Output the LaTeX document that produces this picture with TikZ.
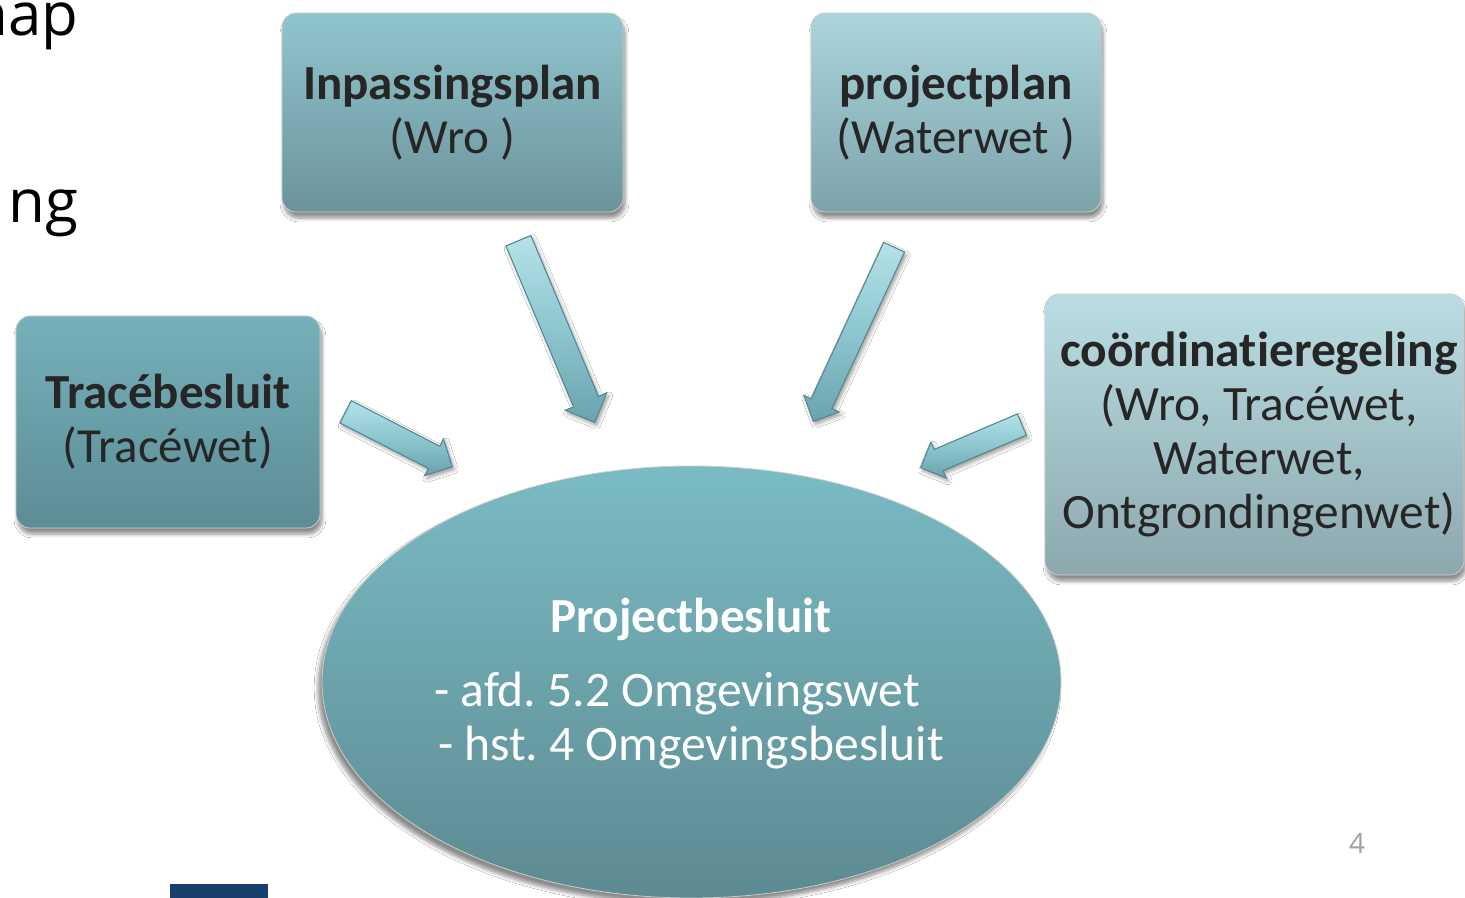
\documentclass[tikz,border=0pt]{standalone}
\usepackage{fontspec}
\setmainfont{Carlito}[Ligatures=NoCommon]
\newfontfamily\slidefont{Open Sans}
\usetikzlibrary{shapes.arrows,shapes.geometric,shadows.blur}
\definecolor{arredge}{HTML}{4F8790}
\definecolor{arrlight}{HTML}{B4E2E8}
\definecolor{arrmid}{HTML}{8DC6CE}
\definecolor{arrdark}{HTML}{6AA3AC}
\definecolor{barblue}{HTML}{17406D}
\definecolor{pagegray}{HTML}{A0A0A0}
\frenchspacing
\begin{document}
\begin{tikzpicture}[x=0.5pt,y=-0.5pt,
  boxbase/.style={rounded corners=7pt, draw=black!20, line width=0.4pt,
    font=\fontsize{24.5}{27}\selectfont, align=center, text=black!85, inner sep=0pt,
    blur shadow={shadow xshift=1pt, shadow yshift=-3pt, shadow blur steps=6, shadow opacity=45}},
  boxtext/.style={font=\fontsize{24.7}{27}\selectfont, align=center, text=black!85, inner sep=0pt},
  blockarrow/.style={single arrow, inner xsep=0pt, inner ysep=6pt, anchor=tip,
    single arrow head extend=4pt, draw=arredge, line width=0.5pt,
    top color=arrlight, bottom color=arrdark, middle color=arrmid,
    blur shadow={shadow xshift=1pt, shadow yshift=-1.5pt, shadow blur steps=4, shadow opacity=40}},
  slidetext/.style={font=\slidefont\fontsize{30}{34}\selectfont, text=black, inner sep=0pt},
  elltext/.style={font=\fontsize{24.8}{27}\selectfont, text=white, anchor=base, inner sep=0pt}]
\useasboundingbox (0,0) rectangle (1465,898);
\clip (0,0) rectangle (1465,898);
\fill[white] (0,0) rectangle (1465,898);

% partial slide text
\node[slidetext, anchor=base east] (tnap) at (79,36) {nap};
\node[slidetext, anchor=base east] (tng) at (79,223) {ng};

% boxes
\node[boxbase, minimum width=170.5pt, minimum height=99.5pt,
  top color={rgb,255:red,144;green,197;blue,205}, bottom color={rgb,255:red,108;green,147;blue,155}]
  (inp) at (452.5,112.5) {\textbf{Inpassingsplan}\\(Wro )};
\node[boxbase, minimum width=145pt, minimum height=99.5pt,
  top color={rgb,255:red,170;green,213;blue,219}, bottom color={rgb,255:red,125;green,163;blue,170}]
  (proj) at (956,112.5) {\textbf{projectplan}\\(Waterwet )};
\node[boxbase, minimum width=152pt, minimum height=106pt,
  top color={rgb,255:red,118;green,176;blue,187}, bottom color={rgb,255:red,92;green,141;blue,149}]
  (trace) at (168,422) {\textbf{Tracébesluit}\\(Tracéwet)};
\node[boxbase, minimum width=209.5pt, minimum height=140.5pt,
  top color={rgb,255:red,186;green,222;blue,227}, bottom color={rgb,255:red,140;green,168;blue,174}]
  (coord) at (1254.5,434.5) {};
\node[boxtext] (coordt) at (1259,434.5) {\textbf{coördinatieregeling}\\(Wro, Tracéwet,\\Waterwet,\\Ontgrondingenwet)};

% central ellipse
\node[ellipse, minimum width=369.5pt, minimum height=216pt, inner sep=0pt,
  draw=black!20, line width=0.4pt,
  top color={rgb,255:red,122;green,187;blue,196}, bottom color={rgb,255:red,93;green,138;blue,145},
  blur shadow={shadow xshift=-2pt, shadow yshift=-3pt, shadow blur steps=6, shadow opacity=45}]
  (pb) at (691.5,682) {};
\node[elltext, font=\fontsize{24.5}{27}\selectfont\bfseries] (pbt) at (691,632) {Projectbesluit};
\node[elltext] (pb1) at (677,706) {- afd. 5.2 Omgevingswet};
\node[elltext] (pb2) at (691,760) {- hst. 4 Omgevingsbesluit};

% block arrows (placed by their tips)
\node[blockarrow, minimum height=60pt, rotate=-27.2] (a1) at (453,467) {};
\node[blockarrow, minimum height=98.5pt, rotate=-67.2, inner ysep=6.5pt, single arrow head extend=4.5pt] (a2) at (595,423) {};
\node[blockarrow, minimum height=96pt, rotate=-114.9, inner ysep=5.5pt] (a3) at (813,422) {};
\node[blockarrow, minimum height=55pt, rotate=-156.9, inner ysep=5.5pt] (a4) at (920,468) {};

% page number and bar
\node[font=\slidefont\fontsize{14}{16}\selectfont, text=pagegray, anchor=base, inner sep=0pt] (pnum) at (1357,853) {4};
\fill[barblue] (170,884) rectangle (268,898);
\end{tikzpicture}
\end{document}
